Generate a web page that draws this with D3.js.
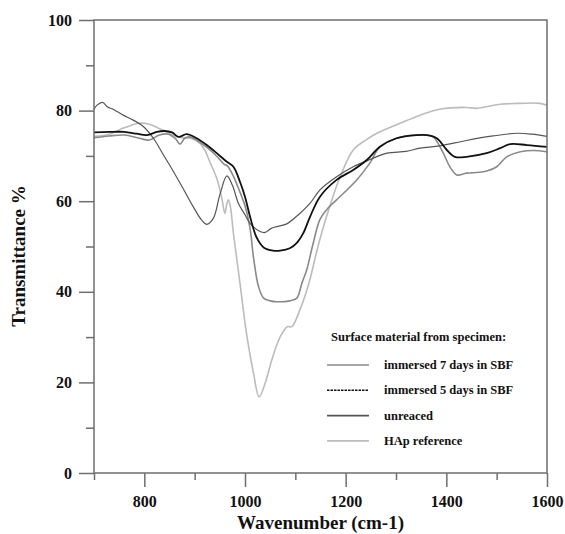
<!DOCTYPE html>
<html>
<head>
<meta charset="utf-8">
<script src="https://cdn.jsdelivr.net/npm/d3@7"></script>
<style>
  body { margin: 0; background: #fff; }
  svg text { font-family: 'Liberation Serif', 'DejaVu Serif', serif; font-weight: bold; }
</style>
</head>
<body>
<div id="chart"><svg></svg></div>
<script>
// FTIR spectra, values
const hapWn = [700, 730, 760, 790, 810, 830, 845, 860, 875, 895, 910, 920, 930, 944, 954, 960, 964, 967, 971, 977, 990, 1003, 1017, 1028, 1040, 1053, 1070, 1084, 1093, 1109, 1126, 1145, 1162, 1189, 1215, 1240, 1262, 1308, 1348, 1387, 1440, 1460, 1507, 1547, 1586, 1600];
const hapT  = [74.3, 74.8, 76.2, 77.2, 77, 76, 75.3, 74.4, 74, 73.8, 72.8, 71.3, 68.7, 65, 60.6, 57.3, 59.5, 60.3, 58.8, 52.9, 41.9, 30.8, 22, 16.8, 19.8, 24.9, 30.1, 32.3, 32.3, 36, 41.5, 50, 56.6, 65.4, 71.3, 73.5, 75, 77.2, 79, 80.3, 80.7, 80.5, 81.4, 81.6, 81.6, 81.2];

const unrWn = [700, 706, 717, 727, 738, 758, 778, 798, 818, 838, 858, 877, 897, 914, 924, 937, 950, 964, 975, 987, 1000, 1010, 1030, 1040, 1052, 1063, 1083, 1109, 1129, 1149, 1182, 1215, 1248, 1282, 1320, 1348, 1387, 1440, 1493, 1540, 1570, 1600];
const unrT  = [80.3, 81.2, 81.8, 80.8, 80.3, 79, 77.9, 76.5, 73.9, 70.2, 66.5, 62.8, 58.8, 55.8, 54.9, 56.2, 61.4, 65.6, 63.5, 59.5, 57, 55.1, 53.3, 53.1, 54, 54.4, 55, 57.3, 59.5, 62.5, 65.4, 67.6, 69.2, 70.6, 71, 71.7, 72.2, 73.4, 74.4, 75, 74.8, 74.3];

const d7Wn = [700, 730, 760, 790, 810, 830, 848, 862, 871, 880, 890, 905, 925, 945, 958, 965, 977, 990, 1000, 1010, 1017, 1027, 1037, 1050, 1063, 1089, 1103, 1113, 1123, 1135, 1149, 1165, 1182, 1222, 1248, 1268, 1301, 1330, 1361, 1374, 1394, 1407, 1421, 1440, 1474, 1500, 1520, 1547, 1573, 1600];
const d7T  = [74, 74.4, 74.6, 73.9, 73.5, 74.6, 74.8, 73.8, 72.6, 73.9, 74.2, 73.4, 71.8, 69.8, 68.2, 67.8, 65.5, 62, 59, 54, 47.5, 41.1, 38.6, 38, 37.8, 38, 38.6, 41.9, 45, 50.5, 56, 58.5, 60.3, 64.7, 68.4, 72, 73.9, 74.5, 74.6, 74.2, 70.6, 67.6, 65.8, 66.2, 66.5, 67.6, 69.8, 70.9, 71.2, 70.9];

const d5Wn = [700, 730, 760, 785, 805, 825, 840, 855, 868, 884, 904, 924, 944, 964, 977, 990, 1000, 1010, 1023, 1037, 1056, 1070, 1089, 1103, 1116, 1129, 1149, 1182, 1215, 1242, 1268, 1301, 1341, 1361, 1381, 1401, 1417, 1440, 1480, 1507, 1527, 1560, 1600];
const d5T  = [75.2, 75.3, 75.3, 74.9, 74.6, 75.3, 75.5, 75.2, 74.2, 74.8, 73.9, 72.4, 70.6, 68.7, 67.6, 64.3, 61, 56.6, 52, 49.8, 49.1, 49.1, 49.6, 50.8, 53, 56.5, 61, 64.7, 66.9, 69.1, 72, 73.9, 74.6, 74.6, 73.9, 71.3, 69.8, 69.8, 70.6, 71.7, 72.6, 72.4, 72];

const seriesNames = ['immersed 7 days in SBF', 'immersed 5 days in SBF', 'unreaced', 'HAp reference'];
const yMajorTicks = [0, 20, 40, 60, 80, 100];
const yMinorTicks = [10, 30, 50, 70, 90];
const xMajorTicks = [800, 1000, 1200, 1400, 1600];
const xMinorTicks = [700, 900, 1100, 1300, 1500];

const series = [
  { name: seriesNames[0], wn: d7Wn, t: d7T, color: '#8a8a8a', width: 1.6, dashed: false },
  { name: seriesNames[1], wn: d5Wn, t: d5T, color: '#111', width: 1.8, dashed: true },
  { name: seriesNames[2], wn: unrWn, t: unrT, color: '#555', width: 1.2, dashed: false },
  { name: seriesNames[3], wn: hapWn, t: hapT, color: '#bcbcbc', width: 1.6, dashed: false }
];

const W = 565, H = 534;
const margin = { top: 20, right: 18, bottom: 61, left: 94 };
const width = W - margin.left - margin.right;
const height = H - margin.top - margin.bottom;
const axisColor = '#6e6e6e';

const svg = d3.select('#chart').select('svg')
  .attr('width', W)
  .attr('height', H);

const chart = svg.append('g')
  .attr('transform', `translate(${margin.left},${margin.top})`);

const xScale = d3.scaleLinear().domain([700, 1600]).range([0, width]);
const yScale = d3.scaleLinear().domain([0, 100]).range([height, 0]);

// spectra
const line = d3.line()
  .x(d => xScale(d[0]))
  .y(d => yScale(d[1]))
  .curve(d3.curveCatmullRom.alpha(0.5));

// light ones first so the dark lines sit on top
[3, 0, 2, 1].forEach(i => {
  const s = series[i];
  chart.append('path')
    .datum(s.wn.map((w, j) => [w, s.t[j]]))
    .attr('fill', 'none')
    .attr('stroke', s.color)
    .attr('stroke-width', s.width)
    .attr('stroke-linejoin', 'round')
    .attr('d', line);
});

// frame (top and right)
chart.append('rect')
  .attr('width', width)
  .attr('height', height)
  .attr('fill', 'none')
  .attr('stroke', axisColor)
  .attr('stroke-width', 1.5);

function styleAxis(g) {
  g.select('.domain').remove();
  g.selectAll('line').attr('stroke', axisColor).attr('stroke-width', 1.5);
  g.selectAll('text').attr('fill', '#111').style('font-size', '16px');
}

// y axis
chart.append('g')
  .call(d3.axisLeft(yScale).tickValues(yMajorTicks).tickSize(15).tickPadding(7).tickFormat(d3.format('d')))
  .call(styleAxis);
chart.append('g')
  .call(d3.axisLeft(yScale).tickValues(yMinorTicks).tickSize(8).tickFormat(''))
  .call(styleAxis);

// x axis
chart.append('g')
  .attr('transform', `translate(0,${height})`)
  .call(d3.axisBottom(xScale).tickValues(xMajorTicks).tickSize(14).tickPadding(9).tickFormat(d3.format('d')))
  .call(styleAxis);
chart.append('g')
  .attr('transform', `translate(0,${height})`)
  .call(d3.axisBottom(xScale).tickValues(xMinorTicks).tickSize(7).tickFormat(''))
  .call(styleAxis);

// axis titles
svg.append('text')
  .attr('text-anchor', 'middle')
  .attr('x', margin.left + width / 2)
  .attr('y', 529)
  .style('font-size', '19px')
  .attr('fill', '#111')
  .text('Wavenumber (cm-1)');

svg.append('text')
  .attr('text-anchor', 'middle')
  .attr('transform', 'rotate(-90)')
  .attr('x', -256)
  .attr('y', 25)
  .style('font-size', '19px')
  .attr('fill', '#111')
  .text('Transmittance %');

// legend
const legend = svg.append('g')
  .attr('transform', 'translate(327, 341)');

legend.append('text')
  .attr('x', 4)
  .attr('y', 0)
  .style('font-size', '12.5px')
  .attr('fill', '#111')
  .text('Surface material from specimen:');

series.forEach((s, i) => {
  const y = 24 + i * 25.3;
  legend.append('line')
    .attr('x1', 0).attr('x2', 42)
    .attr('y1', y).attr('y2', y)
    .attr('stroke', s.color)
    .attr('stroke-width', s.dashed ? 1.5 : 1.6)
    .attr('stroke-dasharray', s.dashed ? '2.5,1' : null);
  legend.append('text')
    .attr('x', 57)
    .attr('y', y + 4)
    .style('font-size', '12.5px')
    .attr('fill', '#111')
    .text(s.name);
});
</script>
</body>
</html>
